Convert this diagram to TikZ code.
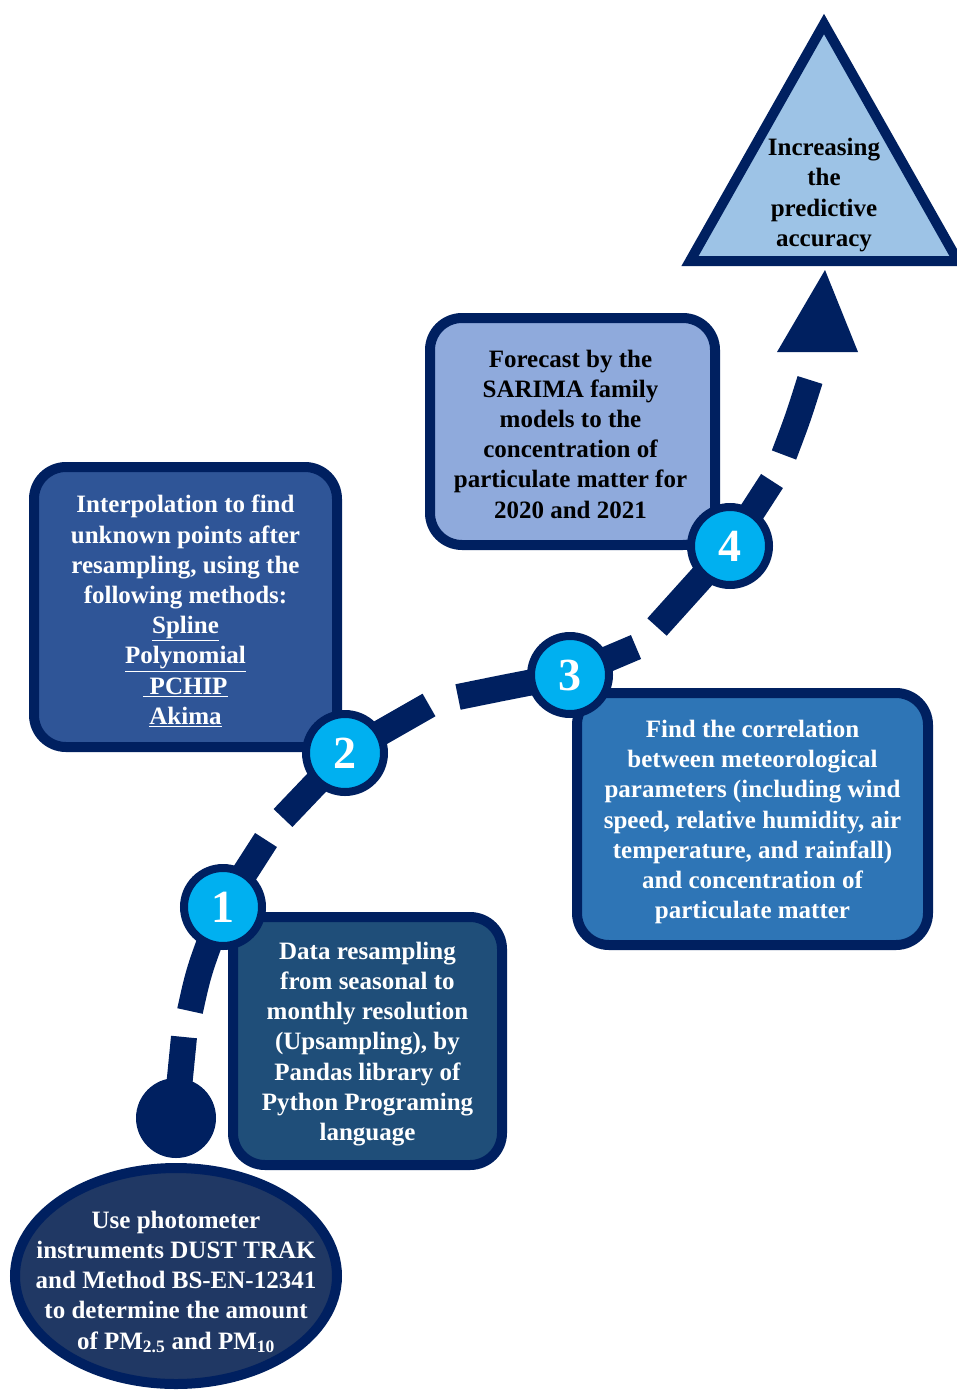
\documentclass[tikz,border=0pt]{standalone}
\usepackage{fontspec}
\setmainfont{Liberation Serif}
\usetikzlibrary{shapes.geometric}
\definecolor{navy}{HTML}{002060}
\definecolor{fillA}{HTML}{1F4E79}
\definecolor{fillB}{HTML}{2F5597}
\definecolor{fillC}{HTML}{2E75B6}
\definecolor{fillD}{HTML}{8FAADC}
\definecolor{fillT}{HTML}{9DC3E6}
\definecolor{fillE}{HTML}{203864}
\definecolor{cyanb}{HTML}{00B0F0}
\begin{document}
\begin{tikzpicture}[x=1pt,y=-1pt,
  txt/.style={font=\bfseries\fontsize{25}{30.2}\selectfont, align=center},
  stepbox/.style={draw=navy, line width=10pt, rounded corners=32pt, inner sep=0pt},
  numc/.style={circle, fill=cyanb, draw=navy, line width=8pt, minimum size=78pt, inner sep=0pt,
    text=white, font=\bfseries\fontsize{46}{46}\selectfont},
  seg/.style={draw=navy, line width=26pt, line cap=butt}]
\useasboundingbox (0,0) rectangle (957,1391);

% boxes
\node[stepbox, fill=fillA, minimum width=269pt, minimum height=248pt] (b1) at (367.5,1041) {};
\node[txt, text=white] (b1t) at (367.5,1044)
  {Data resampling\\from seasonal to\\monthly resolution\\(Upsampling), by\\Pandas library of\\Python Programing\\language};
\node[stepbox, fill=fillB, minimum width=303pt, minimum height=280pt] (b2) at (185.5,607) {};
\node[txt, text=white] (b2t) at (185.5,611)
  {Interpolation to find\\unknown points after\\resampling, using the\\following methods:\\\underline{Spline}\\\underline{Polynomial}\\\underline{\ PCHIP}\\\underline{Akima}};
\node[stepbox, fill=fillC, minimum width=351pt, minimum height=252pt] (b3) at (752.5,819) {};
\node[txt, text=white] (b3t) at (752.5,822)
  {Find the correlation\\between meteorological\\parameters (including wind\\speed, relative humidity, air\\temperature, and rainfall)\\and concentration of\\particulate matter};
\node[stepbox, fill=fillD, minimum width=285pt, minimum height=227pt] (b4) at (572.5,431.5) {};
\node[txt, text=black] (b4t) at (570.5,434)
  {Forecast by the\\SARIMA family\\models to the\\concentration of\\particulate matter for\\2020 and 2021};

% start ellipse and dot
\node[ellipse, draw=navy, line width=10pt, fill=fillE, minimum width=322pt, minimum height=216pt,
  inner sep=0pt] (start) at (176,1276) {};
\node[txt, text=white] (startt) at (176,1282)
  {Use photometer\\instruments DUST TRAK\\and Method BS-EN-12341\\to determine the amount\\of PM\textsubscript{2.5} and PM\textsubscript{10}};
\node[circle, fill=navy, minimum size=80pt, inner sep=0pt] (dot) at (176,1118) {};

% goal triangle
\coordinate (tA) at (824,24);
\coordinate (tB) at (690,261);
\coordinate (tC) at (958,261);
\draw[draw=navy, fill=fillT, line width=10pt, line join=miter] (tA) -- (tB) -- (tC) -- cycle;
\node[txt, text=black] (goal) at (824,195) {Increasing\\the\\predictive\\accuracy};

% path coordinates
\coordinate (a1) at (184,1037);
\coordinate (a2) at (190,1011);
\coordinate (c1p) at (223,907);
\coordinate (a3) at (266,840);
\coordinate (a4) at (283,818);
\coordinate (c2p) at (345,753);
\coordinate (a5) at (429,705);
\coordinate (a6) at (458,697);
\coordinate (c3p) at (570,675);
\coordinate (a7) at (636,647);
\coordinate (a8) at (657,627);
\coordinate (c4p) at (730,546);
\coordinate (a9) at (772,481);
\coordinate (a10) at (784,455);
\coordinate (a11) at (810,380);
\coordinate (hA) at (825,270);
\coordinate (hB) at (777,352);
\coordinate (hC) at (858,352);

% dashed road
\draw[seg] (dot.center) -- (a1);
\draw[seg] (a2) .. controls (199,970) .. (c1p);
\draw[seg] (c1p) -- (a3);
\draw[seg] (a4) -- (c2p);
\draw[seg] (c2p) -- (a5);
\draw[seg] (a6) .. controls (512,686) .. (c3p);
\draw[seg] (c3p) -- (a7);
\draw[seg] (a8) -- (c4p);
\draw[seg] (c4p) -- (a9);
\draw[seg] (a10) .. controls (798,418) .. (a11);
\fill[navy] (hA) -- (hB) -- (hC) -- cycle;

% numbered circles
\node[numc] (c1) at (c1p) {1};
\node[numc] (c2) at (c2p) {2};
\node[numc] (c3) at (c3p) {3};
\node[numc] (c4) at (c4p) {4};
\end{tikzpicture}
\end{document}
